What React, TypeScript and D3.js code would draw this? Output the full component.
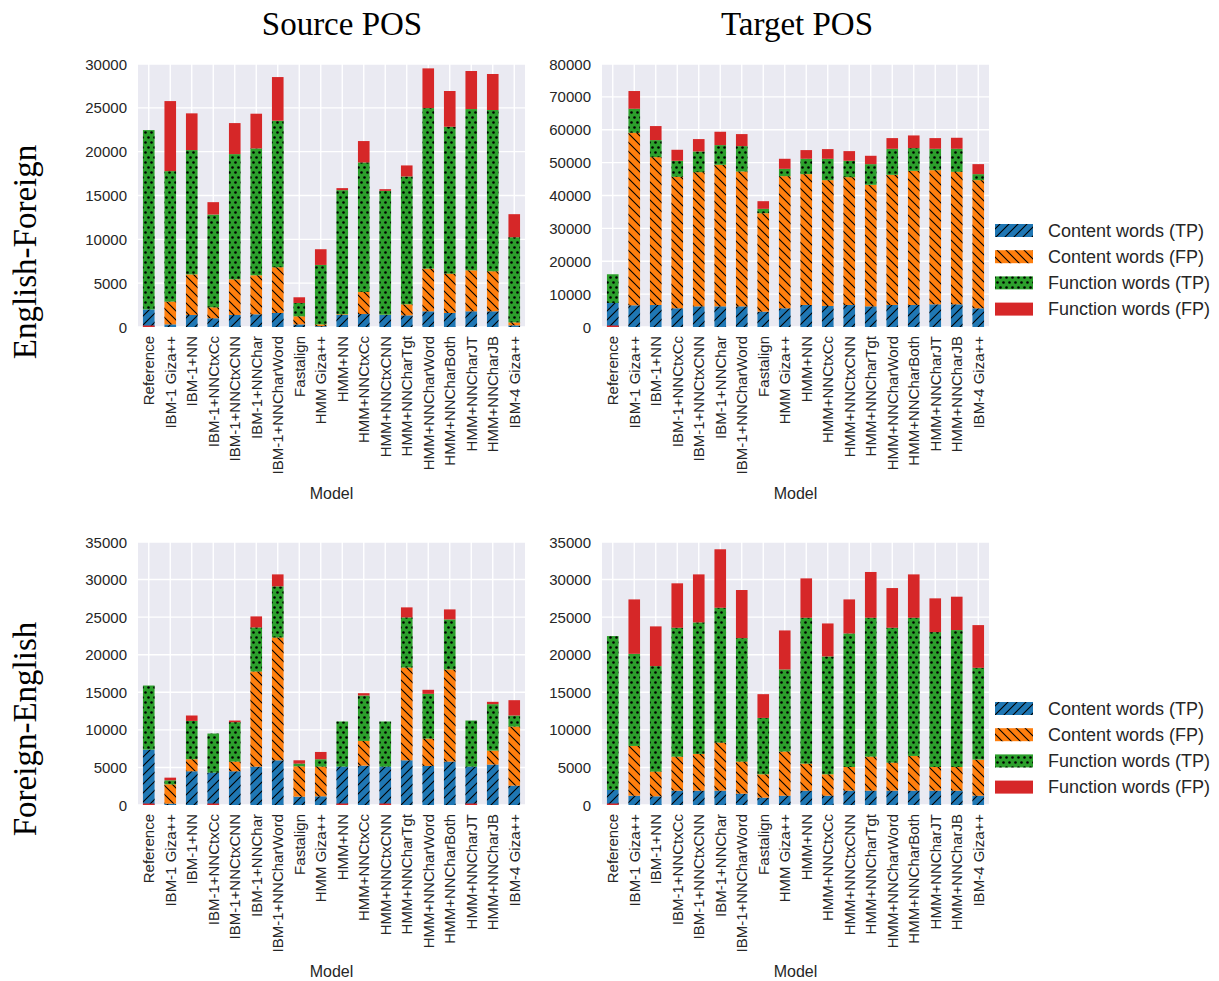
import React from "react";
import * as d3 from "d3";

const models = [
  "Reference", "IBM-1 Giza++", "IBM-1+NN", "IBM-1+NNCtxCc", "IBM-1+NNCtxCNN",
  "IBM-1+NNChar", "IBM-1+NNCharWord", "Fastalign", "HMM Giza++", "HMM+NN",
  "HMM+NNCtxCc", "HMM+NNCtxCNN", "HMM+NNCharTgt", "HMM+NNCharWord",
  "HMM+NNCharBoth", "HMM+NNCharJT", "HMM+NNCharJB", "IBM-4 Giza++",
];

const seriesNames = ["Content words (TP)", "Content words (FP)", "Function words (TP)", "Function words (FP)"];
const seriesColors = ["#1f77b4", "#ff7f0e", "#2ca02c", "#d62728"];
const seriesHatch = ["hatchSlash", "hatchBack", "hatchDots", ""];

// English-Foreign, Source POS
const efSrcContentTP = [2000, 300, 1370, 1000, 1370, 1450, 1600, 300, 100, 1370, 1480, 1370, 1330, 1790, 1600, 1790, 1790, 190];
const efSrcContentFP = [0, 2600, 4630, 1250, 4070, 4450, 5220, 920, 200, 80, 2520, 30, 1260, 4870, 4490, 4680, 4570, 340];
const efSrcFunctionTP = [20460, 14880, 14180, 10580, 14280, 14470, 16710, 1520, 6780, 14160, 14770, 14130, 14580, 18310, 16750, 18390, 18390, 9710];
const efSrcFunctionFP = [0, 7990, 4190, 1410, 3540, 3960, 4980, 650, 1790, 230, 2440, 190, 1260, 4530, 4080, 4340, 4110, 2630];

// English-Foreign, Target POS
const efTgtContentTP = [7310, 6600, 6700, 5690, 6290, 6290, 6290, 4670, 5690, 6700, 6400, 6700, 6290, 6700, 6700, 6900, 6900, 5690];
const efTgtContentFP = [0, 52490, 44970, 39990, 40810, 43050, 41020, 29950, 40200, 39800, 38270, 38880, 36960, 39590, 40810, 40810, 40310, 38980];
const efTgtFunctionTP = [8730, 7300, 5180, 4880, 6300, 5990, 7710, 1320, 2230, 4670, 6500, 4980, 6290, 7920, 6910, 6500, 7000, 1830];
const efTgtFunctionFP = [0, 5390, 4270, 3350, 3760, 4060, 3660, 2330, 3050, 2640, 2940, 2940, 2540, 3250, 3850, 3250, 3350, 3040];

// Foreign-English, Source POS
const feSrcContentTP = [7370, 180, 4490, 4310, 4490, 5110, 5950, 1110, 1160, 5110, 5240, 5110, 5950, 5200, 5780, 5110, 5380, 2580];
const feSrcContentFP = [0, 2570, 1600, 0, 1290, 12660, 16350, 4040, 3950, 0, 3290, 0, 12350, 3640, 12260, 0, 1860, 7860];
const feSrcFunctionTP = [8530, 540, 5100, 5200, 5240, 5860, 6800, 360, 980, 6000, 6040, 6000, 6660, 5950, 6660, 6130, 6180, 1470];
const feSrcFunctionFP = [0, 350, 720, 0, 220, 1470, 1590, 440, 970, 0, 310, 0, 1340, 540, 1330, 0, 310, 2040];

// Foreign-English, Target POS
const feTgtContentTP = [2000, 1240, 1160, 1910, 1910, 1910, 1510, 980, 1240, 1910, 1240, 1910, 1910, 1910, 1910, 1910, 1910, 1240];
const feTgtContentFP = [0, 6620, 3280, 4530, 4890, 6400, 4270, 3110, 5870, 3600, 2850, 3150, 4530, 3730, 4620, 3150, 3150, 4800];
const feTgtFunctionTP = [20480, 12260, 14040, 17150, 17500, 17940, 16430, 7500, 10930, 19410, 15680, 17770, 18480, 17950, 18390, 17950, 18220, 12220];
const feTgtFunctionFP = [0, 7240, 5290, 5910, 6390, 7780, 6400, 3160, 5190, 5240, 4390, 4530, 6090, 5280, 5770, 4490, 4440, 5680];

const ticks30k = [0, 5000, 10000, 15000, 20000, 25000, 30000];
const ticks80k = [0, 10000, 20000, 30000, 40000, 50000, 60000, 70000, 80000];
const ticks35k = [0, 5000, 10000, 15000, 20000, 25000, 30000, 35000];

const columnTitles = ["Source POS", "Target POS"];
const rowTitles = ["English-Foreign", "Foreign-English"];

const panelW = 387;
const panelH = 263;

const panels = [
  { x: 138, y: 64, ticks: ticks30k, series: [efSrcContentTP, efSrcContentFP, efSrcFunctionTP, efSrcFunctionFP], legend: false },
  { x: 602, y: 64, ticks: ticks80k, series: [efTgtContentTP, efTgtContentFP, efTgtFunctionTP, efTgtFunctionFP], legend: true },
  { x: 138, y: 542, ticks: ticks35k, series: [feSrcContentTP, feSrcContentFP, feSrcFunctionTP, feSrcFunctionFP], legend: false },
  { x: 602, y: 542, ticks: ticks35k, series: [feTgtContentTP, feTgtContentFP, feTgtFunctionTP, feTgtFunctionFP], legend: true },
];

const sansFont = "'Liberation Sans', Arial, sans-serif";
const serifFont = "'Liberation Serif', 'DejaVu Serif', serif";
const textColor = "#262626";

function Panel({ p }: { p: (typeof panels)[number] }) {
  const keys = ["s0", "s1", "s2", "s3"];
  const rows = models.map((m, i) => {
    const r: any = { model: m };
    keys.forEach((k, j) => (r[k] = p.series[j][i]));
    return r;
  });
  const stacked = d3.stack().keys(keys)(rows);
  const x = d3.scaleBand().domain(models).range([p.x, p.x + panelW]).padding(0);
  const y = d3.scaleLinear().domain([0, p.ticks[p.ticks.length - 1]]).range([p.y + panelH, p.y]);
  const bw = x.bandwidth() * 0.54;
  const base = y(0);

  return (
    <g>
      <rect x={p.x} y={p.y} width={panelW} height={panelH} fill="#EAEAF2" />
      {p.ticks.map((t) => (
        <line key={"h" + t} x1={p.x} x2={p.x + panelW} y1={y(t)} y2={y(t)} stroke="#fff" strokeWidth={1.4} />
      ))}
      {models.map((m) => {
        const cx = (x(m) as number) + x.bandwidth() / 2;
        return <line key={"v" + m} x1={cx} x2={cx} y1={p.y} y2={p.y + panelH} stroke="#fff" strokeWidth={1.4} />;
      })}
      {stacked.map((layer, si) =>
        layer.map((d, i) => {
          const m = models[i];
          const cx = (x(m) as number) + x.bandwidth() / 2;
          const v = d[1] - d[0];
          let y0 = y(d[1]);
          let h = y(d[0]) - y(d[1]);
          if (v === 0) {
            if (si !== 3) return null;
            y0 = base - 1.5;
            h = 1.5;
          }
          return (
            <g key={si + "-" + i}>
              <rect x={cx - bw / 2} y={y0} width={bw} height={h} fill={seriesColors[si]} />
              {seriesHatch[si] && v > 0 ? (
                <rect x={cx - bw / 2} y={y0} width={bw} height={h} fill={`url(#${seriesHatch[si]})`} />
              ) : null}
            </g>
          );
        })
      )}
      {p.ticks.map((t) => (
        <text key={"yl" + t} x={p.x - 11} y={y(t)} textAnchor="end" dominantBaseline="central"
          fontSize={15} fontFamily={sansFont} fill={textColor}>{t}</text>
      ))}
      {models.map((m) => {
        const cx = (x(m) as number) + x.bandwidth() / 2;
        const ty = p.y + panelH + 9;
        return (
          <text key={"xl" + m} x={cx} y={ty} transform={`rotate(-90 ${cx} ${ty})`} textAnchor="end"
            dominantBaseline="central" fontSize={15} fontFamily={sansFont} fill={textColor}>{m}</text>
        );
      })}
      <text x={p.x + panelW / 2} y={p.y + panelH + 166} textAnchor="middle" dominantBaseline="central"
        fontSize={16} fontFamily={sansFont} fill={textColor}>Model</text>
      {p.legend ? (
        <g>
          {seriesNames.map((s, si) => {
            const cy = p.y + 166.5 + si * 26.2;
            return (
              <g key={s}>
                <rect x={995} y={cy - 6.5} width={38} height={13} fill={seriesColors[si]} />
                {seriesHatch[si] ? (
                  <rect x={995} y={cy - 6.5} width={38} height={13} fill={`url(#${seriesHatch[si]})`} />
                ) : null}
                <text x={1048} y={cy} dominantBaseline="central" fontSize={18} fontFamily={sansFont} fill={textColor}>{s}</text>
              </g>
            );
          })}
        </g>
      ) : null}
    </g>
  );
}

export default function App() {
  return (
    <svg width={1219} height={981} style={{ position: "absolute", left: 0, top: 0, background: "#fff" }}
      xmlns="http://www.w3.org/2000/svg">
      <defs>
        <pattern id="hatchSlash" patternUnits="userSpaceOnUse" width={9} height={9}>
          <path d="M-2,2 L2,-2 M0,9 L9,0 M7,11 L11,7" stroke="#000" strokeWidth={1.1} />
        </pattern>
        <pattern id="hatchBack" patternUnits="userSpaceOnUse" width={9} height={9}>
          <path d="M-2,7 L2,11 M0,0 L9,9 M7,-2 L11,2" stroke="#000" strokeWidth={1.1} />
        </pattern>
        <pattern id="hatchDots" patternUnits="userSpaceOnUse" width={6} height={10}>
          <circle cx={1.5} cy={2.5} r={1.3} fill="#000" />
          <circle cx={4.5} cy={7.5} r={1.3} fill="#000" />
        </pattern>
      </defs>
      <rect x={0} y={0} width={1219} height={981} fill="#fff" />
      {panels.map((p, i) => (
        <Panel key={i} p={p} />
      ))}
      <text x={342} y={35} textAnchor="middle" fontSize={33} fontFamily={serifFont} fill="#000">{columnTitles[0]}</text>
      <text x={797} y={35} textAnchor="middle" fontSize={33} fontFamily={serifFont} fill="#000">{columnTitles[1]}</text>
      <text x={36} y={252} transform="rotate(-90 36 252)" textAnchor="middle" fontSize={33} fontFamily={serifFont} fill="#000">{rowTitles[0]}</text>
      <text x={36} y={729} transform="rotate(-90 36 729)" textAnchor="middle" fontSize={33} fontFamily={serifFont} fill="#000">{rowTitles[1]}</text>
    </svg>
  );
}
